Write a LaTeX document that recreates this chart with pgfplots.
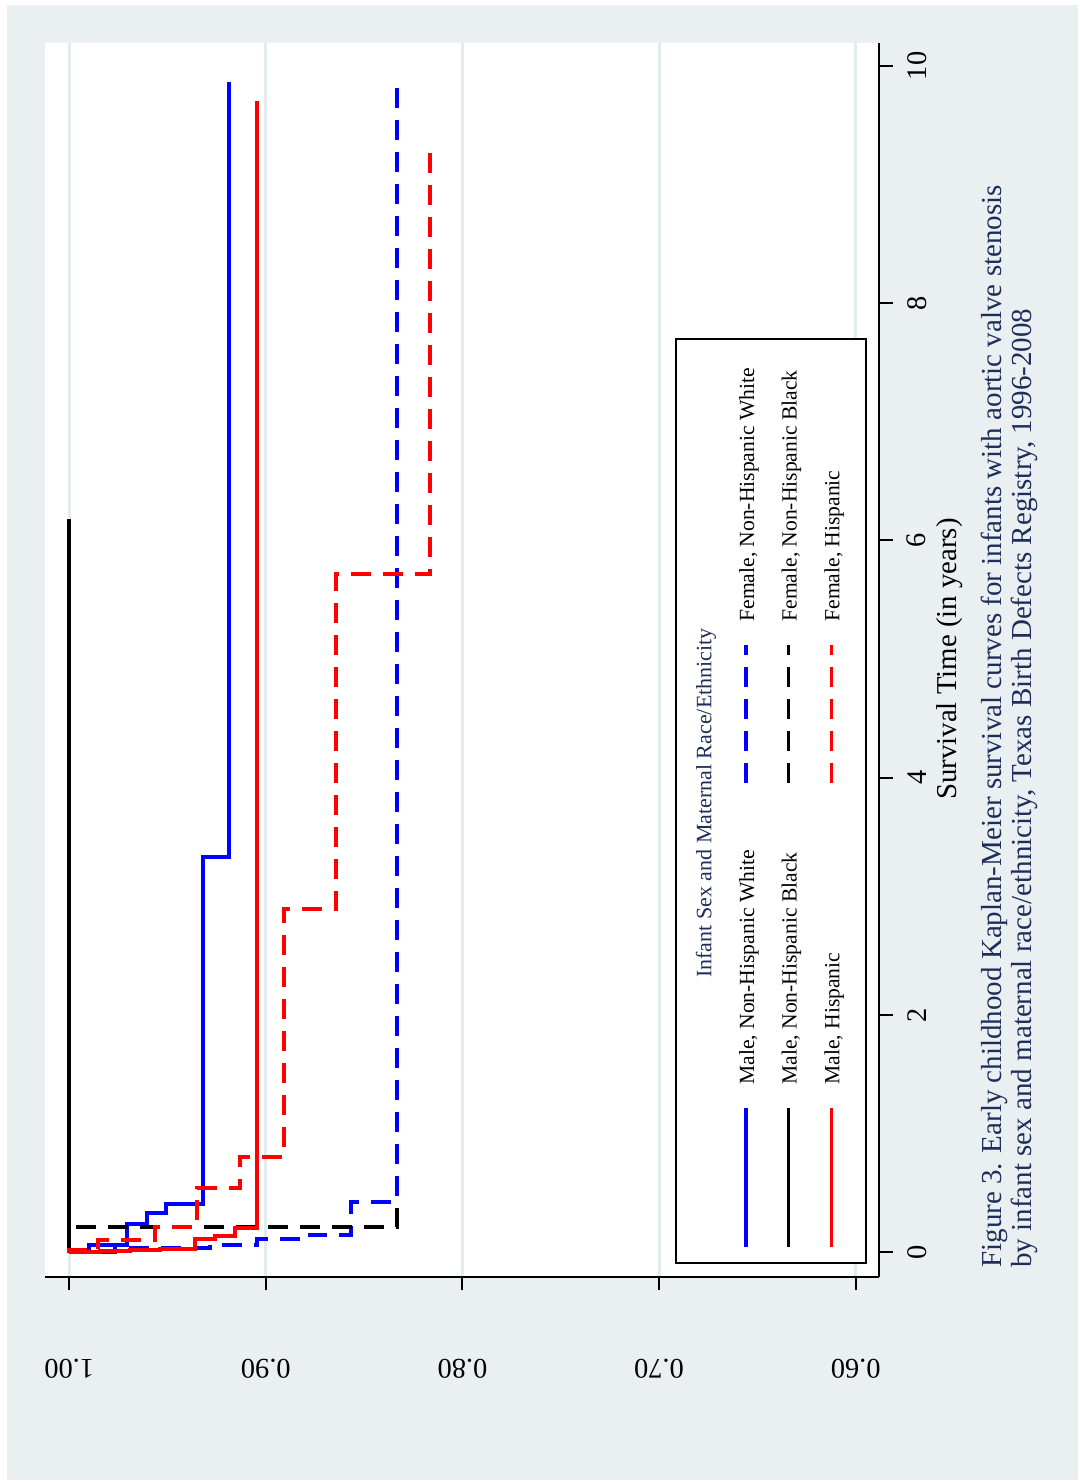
\documentclass[border=0pt]{standalone}
\usepackage{pgfplots}
\pgfplotsset{compat=1.18}
\usepackage{fontspec}
\setmainfont{Liberation Serif}
\definecolor{bgc}{RGB}{234,240,242}
\definecolor{gridc}{RGB}{226,235,238}
\definecolor{capc}{RGB}{30,45,90}
\definecolor{sblue}{RGB}{0,0,255}
\definecolor{sred}{RGB}{255,0,0}
\begin{document}
\begin{tikzpicture}
\begin{scope}[x=0.5pt,y=-0.5pt,shift={(-22.5pt,638pt)}]
\useasboundingbox (0,0) rectangle (1080,1482);
\fill[white] (0,0) rectangle (1080,1482);
\fill[bgc] (7,5) rectangle (1078,1480);
\end{scope}
\begin{axis}[
  at={(0pt,-0.25pt)}, anchor=south west,
  scale only axis, width=417pt, height=616.9pt,
  x dir=reverse, xmin=0.58815, xmax=1.01236,
  ymin=-0.204, ymax=10.196,
  axis background/.style={fill=white},
  axis x line*=bottom, axis y line*=right,
  axis line style={line width=1pt, black},
  tick align=outside, major tick length=7pt,
  tick style={line width=1pt, black},
  xtick={0.6,0.7,0.8,0.9,1.0},
  xticklabels={0.60,0.70,0.80,0.90,1.00},
  ytick={0,2,4,6,8,10},
  yticklabels={0,2,4,6,8,10},
  xmajorgrids,
  grid style={gridc, line width=1.5pt},
  xticklabel style={anchor=center, yshift=-39.25pt, rotate=180, font=\fontsize{14.2}{14}\selectfont},
  yticklabel style={anchor=center, xshift=11.85pt, rotate=90, font=\fontsize{14.2}{14}\selectfont},
]
% Male, Non-Hispanic White
\addplot[sblue, line width=2pt] coordinates {
(1,0) (1,0.017) (0.9898,0.017) (0.9898,0.062) (0.9705,0.062) (0.9705,0.236)
(0.9606,0.236) (0.9606,0.329) (0.9510,0.329) (0.9510,0.408) (0.9321,0.408)
(0.9321,3.332) (0.9188,3.332) (0.9188,9.863)};
% Female, Non-Hispanic White
\addplot[sblue, line width=2pt, dash pattern=on 10pt off 6pt] coordinates {
(1,0) (1,0.005) (0.9768,0.005) (0.9768,0.034) (0.9284,0.034) (0.9284,0.062)
(0.9047,0.062) (0.9047,0.112) (0.8776,0.112) (0.8776,0.150) (0.8569,0.150)
(0.8569,0.427) (0.8335,0.427) (0.8335,9.916)};
% Male, Non-Hispanic Black
\addplot[black, line width=2pt] coordinates {(1,0) (1,6.18)};
% Female, Non-Hispanic Black
\addplot[black, line width=2pt, dash pattern=on 10pt off 6pt] coordinates {
(1,0) (1,0.216) (0.8335,0.216) (0.8335,0.399)};
% Male, Hispanic
\addplot[sred, line width=2pt] coordinates {
(1,0) (1,0.004) (0.9844,0.004) (0.9844,0.010) (0.9691,0.010) (0.9691,0.020)
(0.9539,0.020) (0.9539,0.030) (0.9361,0.030) (0.9361,0.112) (0.9259,0.112)
(0.9259,0.140) (0.9157,0.140) (0.9157,0.207) (0.9047,0.207) (0.9047,9.705)};
% Female, Hispanic
\addplot[sred, line width=2pt, dash pattern=on 10pt off 6pt] coordinates {
(1,0) (1,0.020) (0.9854,0.020) (0.9854,0.104) (0.9564,0.104) (0.9564,0.213)
(0.9352,0.213) (0.9352,0.545) (0.9132,0.545) (0.9132,0.801) (0.8908,0.801)
(0.8908,2.894) (0.8643,2.894) (0.8643,5.718) (0.8165,5.718) (0.8165,9.309)};
\end{axis}
\begin{scope}[x=0.5pt,y=-0.5pt,shift={(-22.5pt,638pt)}]
% legend (rotated like the rest of the figure)
\draw[line width=0.75pt, fill=white] (676,339) rectangle (866,1263);
\node[rotate=90, text=capc, font=\fontsize{11}{12}\selectfont] at (706,803) {Infant Sex and Maternal Race/Ethnicity};
\draw[sblue, line width=1.7pt] (746,1247) -- (746,1108);
\draw[black, line width=1.7pt] (788.3,1247) -- (788.3,1108);
\draw[sred, line width=1.7pt] (831.7,1247) -- (831.7,1108);
\draw[sblue, line width=1.7pt, dash pattern=on 10pt off 6pt] (746,783) -- (746,645);
\draw[black, line width=1.7pt, dash pattern=on 10pt off 6pt] (788.3,783) -- (788.3,645);
\draw[sred, line width=1.7pt, dash pattern=on 10pt off 6pt] (831.7,783) -- (831.7,645);
\begin{scope}[every node/.style={rotate=90, anchor=base west, inner sep=0pt, font=\fontsize{10.8}{12}\selectfont}]
\node at (754,1085) {Male, Non-Hispanic White};
\node at (796.7,1085) {Male, Non-Hispanic Black};
\node at (839.3,1085) {Male, Hispanic};
\node at (754,622) {Female, Non-Hispanic White};
\node at (796.7,622) {Female, Non-Hispanic Black};
\node at (839.3,622) {Female, Hispanic};
\end{scope}
\node[rotate=90, font=\fontsize{14.4}{14}\selectfont] at (950,659) {Survival Time (in years)};
\node[rotate=90, anchor=base west, inner sep=0pt, text=capc, font=\fontsize{14.5}{14}\selectfont] at (1001.7,1268) {Figure 3. Early childhood Kaplan-Meier survival curves for infants with aortic valve stenosis};
\node[rotate=90, anchor=base west, inner sep=0pt, text=capc, font=\fontsize{14.5}{14}\selectfont] at (1031.7,1268) {by infant sex and maternal race/ethnicity, Texas Birth Defects Registry, 1996-2008};
\end{scope}
\end{tikzpicture}
\end{document}
